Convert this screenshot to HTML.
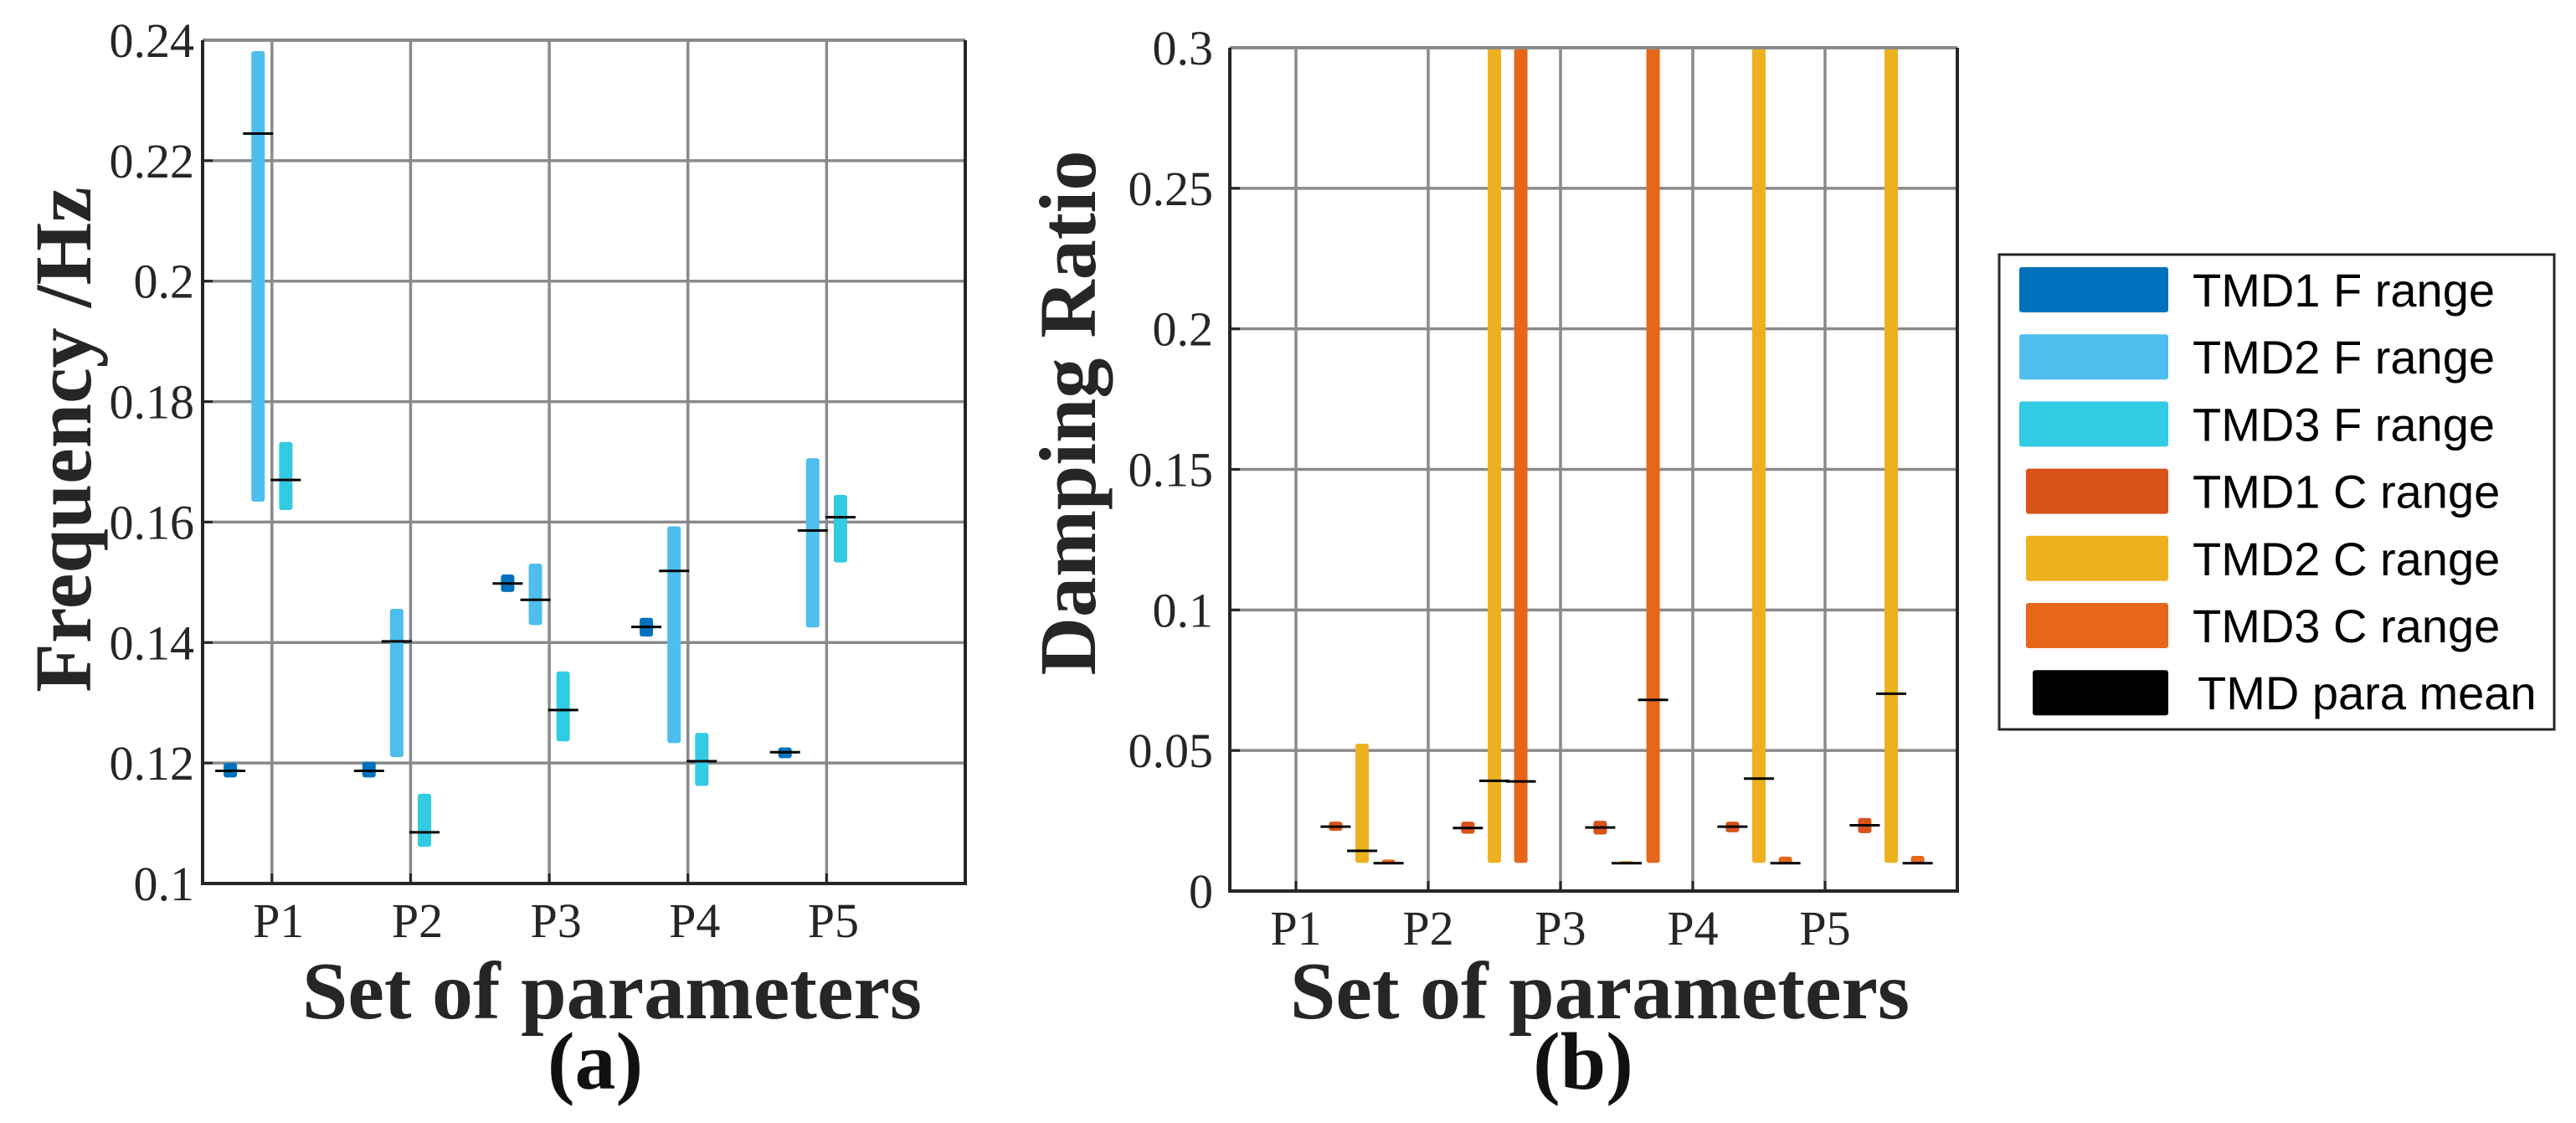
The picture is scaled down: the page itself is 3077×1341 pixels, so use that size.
<!DOCTYPE html>
<html><head><meta charset="utf-8">
<style>
html,body{margin:0;padding:0;background:#fff;}
svg{display:block;}
</style></head>
<body>
<svg id="fig" width="3077" height="1341" viewBox="0 0 3077 1341" xmlns="http://www.w3.org/2000/svg">
  <rect x="0" y="0" width="3077" height="1341" fill="#fff"/>
  <g id="panelA"></g>
  <g id="panelB"></g>
  <g id="legend"></g>
</svg>
<script>
// ---------- data ----------
const categories = ["P1","P2","P3","P4","P5"];
const seriesNames = ["TMD1 F range","TMD2 F range","TMD3 F range","TMD1 C range","TMD2 C range","TMD3 C range","TMD para mean"];
const seriesColors = ["#0072BD","#4DBEEE","#31CBE3","#D95319","#EDB120","#E6661A","#000000"];

// Frequency (panel a)
const freqTMD1Low  = [0.1176,0.1176,0.1484,0.1410,0.1208];
const freqTMD1High = [0.1200,0.1202,0.1513,0.1441,0.1226];
const freqTMD1Mean = [0.1187,0.1187,0.1498,0.1426,0.1218];
const freqTMD2Low  = [0.1634,0.1210,0.1429,0.1233,0.1425];
const freqTMD2High = [0.2382,0.1456,0.1531,0.1593,0.1706];
const freqTMD2Mean = [0.2245,0.1402,0.1471,0.1519,0.1586];
const freqTMD3Low  = [0.1620,0.1061,0.1236,0.1162,0.1533];
const freqTMD3High = [0.1733,0.1149,0.1352,0.1250,0.1645];
const freqTMD3Mean = [0.1670,0.1085,0.1288,0.1203,0.1608];

// Damping ratio (panel b)
const dampTMD1Low  = [0.0214,0.0204,0.0201,0.0209,0.0206];
const dampTMD1High = [0.0247,0.0247,0.0250,0.0247,0.0260];
const dampTMD1Mean = [0.0229,0.0224,0.0226,0.0229,0.0234];
const dampTMD2Low  = [0.0100,0.0100,0.0095,0.0100,0.0100];
const dampTMD2High = [0.0524,0.3000,0.0107,0.3000,0.3000];
const dampTMD2Mean = [0.0143,0.0392,0.0099,0.0400,0.0702];
const dampTMD3Low  = [0.0095,0.0100,0.0100,0.0095,0.0095];
const dampTMD3High = [0.0112,0.3000,0.3000,0.0122,0.0125];
const dampTMD3Mean = [0.0099,0.0390,0.0680,0.0099,0.0099];

const freqTicks = [0.1,0.12,0.14,0.16,0.18,0.2,0.22,0.24];
const freqTickLabels = ["0.1","0.12","0.14","0.16","0.18","0.2","0.22","0.24"];
const dampTicks = [0,0.05,0.1,0.15,0.2,0.25,0.3];
const dampTickLabels = ["0","0.05","0.1","0.15","0.2","0.25","0.3"];

// ---------- helpers ----------
const NS = "http://www.w3.org/2000/svg";
function mk(tag, attrs, parent){
  const e = document.createElementNS(NS, tag);
  for (const k in attrs) e.setAttribute(k, attrs[k]);
  parent.appendChild(e);
  return e;
}

function drawPanel(g, cfg){
  const {L,R,T,B,xmin,xmax,ymin,ymax} = cfg;
  const xs = v => L + (v - xmin) / (xmax - xmin) * (R - L);
  const ys = v => B - (v - ymin) / (ymax - ymin) * (B - T);
  cfg.ticks.forEach((t,i)=>{
    const y = ys(t);
    const gl = mk("line",{x1:L,x2:R,y1:y,y2:y,stroke:"#8a8a8a","stroke-width":3.5},g);
    
    
    const tk = mk("line",{x1:L,x2:L+12,y1:y,y2:y,stroke:"#262626","stroke-width":3},g);
    
    
    const tl = mk("text",{x:L-cfg.labelGap,y:y+20,"text-anchor":"end","font-family":"Liberation Serif, serif","font-size":58,fill:"#262626"},g);
    tl.textContent = cfg.tickLabels[i];
    
    
  });
  categories.forEach((c,i)=>{
    const x = xs(i+1);
    const gl = mk("line",{x1:x,x2:x,y1:T,y2:B,stroke:"#8a8a8a","stroke-width":3.5},g);
    
    
    const tk = mk("line",{x1:x,x2:x,y1:B,y2:B-12,stroke:"#262626","stroke-width":3},g);
    
    
    const tl = mk("text",{x:x+cfg.xLabelShift,y:B+64,"text-anchor":"middle","font-family":"Liberation Serif, serif","font-size":58,fill:"#262626"},g);
    tl.textContent = c;
    
    
  });
  cfg.series.forEach(s=>{
    categories.forEach((c,i)=>{
      const cx = xs(i + 1 + s.off);
      const y1 = ys(s.hi[i]), y2 = ys(s.lo[i]);
      const bar = mk("rect",{x:cx-8,y:y1,width:16,height:Math.max(y2-y1,4),rx:3,fill:s.color},g);
      
      
    });
  });
  cfg.series.forEach(s=>{
    categories.forEach((c,i)=>{
      const cx = xs(i + 1 + s.off);
      const ym = ys(s.mean[i]);
      const ml = mk("line",{x1:cx-18,x2:cx+18,y1:ym,y2:ym,stroke:"#000","stroke-width":3},g);
      
      
    });
  });
  const top = mk("line",{x1:L,x2:R,y1:T,y2:T,stroke:"#8a8a8a","stroke-width":4},g);
  
  
  const ax = mk("path",{d:`M${L},${T} L${L},${B} L${R},${B} L${R},${T}`,fill:"none",stroke:"#262626","stroke-width":4},g);
  
  
  const xt = mk("text",{x:cfg.xTitleX,y:1216,"text-anchor":"middle","font-family":"Liberation Serif, serif","font-weight":"bold","font-size":98,fill:"#262626"},g);
  xt.textContent = "Set of parameters";
  
  
  const yt = mk("text",{x:0,y:0,"text-anchor":"middle","font-family":"Liberation Serif, serif","font-weight":"bold","font-size":96,fill:"#262626",transform:`translate(${cfg.yTitleX},${cfg.yTitleY}) rotate(-90)`},g);
  yt.textContent = cfg.yTitle;
  
  
  const pl = mk("text",{x:cfg.xTitleX-20,y:1300,"text-anchor":"middle","font-family":"Liberation Serif, serif","font-weight":"bold","font-size":98,fill:"#111"},g);
  pl.textContent = cfg.panelLabel;
  
  
}

drawPanel(document.getElementById("panelA"),{
  L:242,R:1153,T:48,B:1055,xmin:0.5,xmax:6,ymin:0.1,ymax:0.24,
  ticks:freqTicks,tickLabels:freqTickLabels,labelGap:10,xLabelShift:8,
  xTitleX:731,yTitleX:108,yTitleY:525,yTitle:"Frequency /Hz",panelLabel:"(a)",
  series:[
    {name:"tmd1-f-range",color:seriesColors[0],off:-0.3,lo:freqTMD1Low,hi:freqTMD1High,mean:freqTMD1Mean},
    {name:"tmd2-f-range",color:seriesColors[1],off:-0.1,lo:freqTMD2Low,hi:freqTMD2High,mean:freqTMD2Mean},
    {name:"tmd3-f-range",color:seriesColors[2],off:0.1,lo:freqTMD3Low,hi:freqTMD3High,mean:freqTMD3Mean}
  ]
});
drawPanel(document.getElementById("panelB"),{
  L:1469,R:2338,T:57,B:1064,xmin:0.5,xmax:6,ymin:0,ymax:0.3,
  ticks:dampTicks,tickLabels:dampTickLabels,labelGap:20,xLabelShift:0,
  xTitleX:1911,yTitleX:1308,yTitleY:493,yTitle:"Damping Ratio",panelLabel:"(b)",
  series:[
    {name:"tmd1-c-range",color:seriesColors[3],off:0.3,lo:dampTMD1Low,hi:dampTMD1High,mean:dampTMD1Mean},
    {name:"tmd2-c-range",color:seriesColors[4],off:0.5,lo:dampTMD2Low,hi:dampTMD2High,mean:dampTMD2Mean},
    {name:"tmd3-c-range",color:seriesColors[5],off:0.7,lo:dampTMD3Low,hi:dampTMD3High,mean:dampTMD3Mean}
  ]
});

const lg = document.getElementById("legend");
const box = mk("rect",{x:2388,y:304,width:663,height:567,fill:"#fff",stroke:"#262626","stroke-width":3},lg);


seriesNames.forEach((n,i)=>{
  const cy = 346 + i*80.2;
  const sx = i < 3 ? 2412 : (i < 6 ? 2420 : 2428);
  const sw = mk("rect",{x:sx,y:cy-27,width:2590-sx,height:54,rx:3,fill:seriesColors[i]},lg);
  
  
  const t = mk("text",{x:2619 + (i===6?6:0),y:cy+20,"font-family":"Liberation Sans, sans-serif","font-size":56,fill:"#000"},lg);
  t.textContent = n;
  
  
});
</script>
</body></html>
